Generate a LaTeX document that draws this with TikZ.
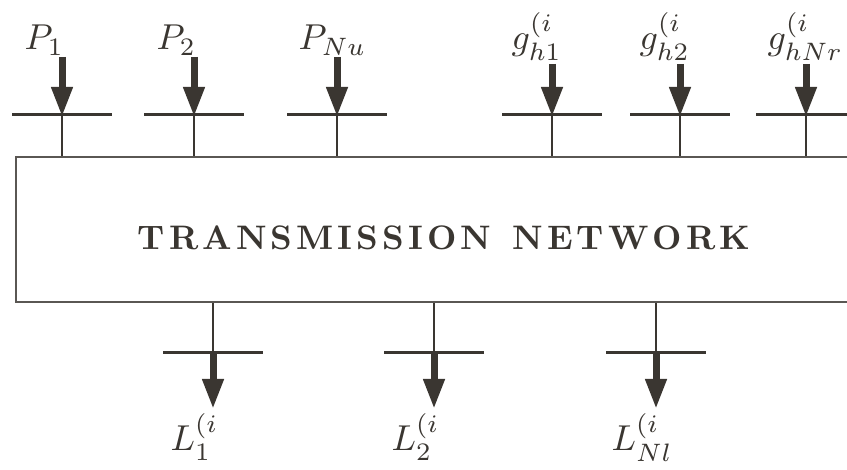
\documentclass[tikz,border=0pt]{standalone}
\usetikzlibrary{arrows.meta}
\definecolor{ink}{HTML}{3A3631}
\definecolor{boxgray}{HTML}{5A5753}
\newcommand\lsp{\kern1.2pt}
\begin{document}
\begin{tikzpicture}[x=1pt,y=-1pt,
  busbar/.style={draw=ink,line width=3pt},
  tie/.style={draw=ink,line width=1.6pt},
  flow/.style={draw=ink,line width=7pt,-{Triangle[length=30pt,width=20pt]},shorten >=0pt},
  lab/.style={text=ink,inner sep=0pt,scale=3.6,transform shape},
  ttl/.style={text=ink,inner sep=0pt,scale=3.4,transform shape,font=\bfseries},
  netbox/.style={draw=boxgray,line width=2pt,minimum width=856pt,minimum height=145pt,inner sep=0pt}]
\useasboundingbox (0,0) rectangle (847,470);
\clip (0,0) rectangle (847,470);
\fill[white] (0,0) rectangle (847,470);
% network box
\node[netbox] (net) at (444,229.5) {};
\node[ttl,anchor=base] (title) at (444,250) {T\lsp R\lsp A\lsp N\lsp S\lsp M\lsp I\lsp S\lsp S\lsp I\lsp O\lsp N\lsp{} \lsp N\lsp E\lsp T\lsp W\lsp O\lsp R\lsp K};
% top bus coordinates
\foreach \n/\x/\s in {p1/62/57,p2/194/57,pn/337/57,g1/552/64,g2/680/64,gn/806/64}{
  \coordinate (\n) at (\x,115);
  \coordinate (\n-l) at (\x-50,115);
  \coordinate (\n-r) at (\x+50,115);
  \coordinate (\n-s) at (\x,\s);
}
% bottom bus coordinates
\foreach \n/\x in {l1/213,l2/434,ln/656}{
  \coordinate (\n) at (\x,353);
  \coordinate (\n-l) at (\x-50,353);
  \coordinate (\n-r) at (\x+50,353);
  \coordinate (\n-e) at (\x,409);
}
% labels
\node[lab,anchor=base west] (tp1) at (24,50) {$P_1$};
\node[lab,anchor=base west] (tp2) at (156,50) {$P_2$};
\node[lab,anchor=base west] (tpn) at (298,50) {$P_{Nu}$};
\node[lab,anchor=base west] (tg1) at (511,50) {$g_{h1}^{(i}$};
\node[lab,anchor=base west] (tg2) at (639,50) {$g_{h2}^{(i}$};
\node[lab,anchor=base west] (tgn) at (767,50) {$g_{hNr}^{(i}$};
\node[lab,anchor=base west] (tl1) at (170,451) {$L_1^{(i}$};
\node[lab,anchor=base west] (tl2) at (391,451) {$L_2^{(i}$};
\node[lab,anchor=base west] (tln) at (611,451) {$L_{Nl}^{(i}$};
% top buses
\foreach \n in {p1,p2,pn,g1,g2,gn}{
  \draw[tie] (\n) -- (\n |- net.north);
  \draw[busbar] (\n-l) -- (\n-r);
  \draw[flow] (\n-s) -- ([yshift=-2pt]\n);
}
% bottom buses
\foreach \n in {l1,l2,ln}{
  \draw[tie] (\n |- net.south) -- (\n);
  \draw[busbar] (\n-l) -- (\n-r);
  \draw[flow] ([yshift=1pt]\n) -- (\n-e);
}
\end{tikzpicture}
\end{document}
